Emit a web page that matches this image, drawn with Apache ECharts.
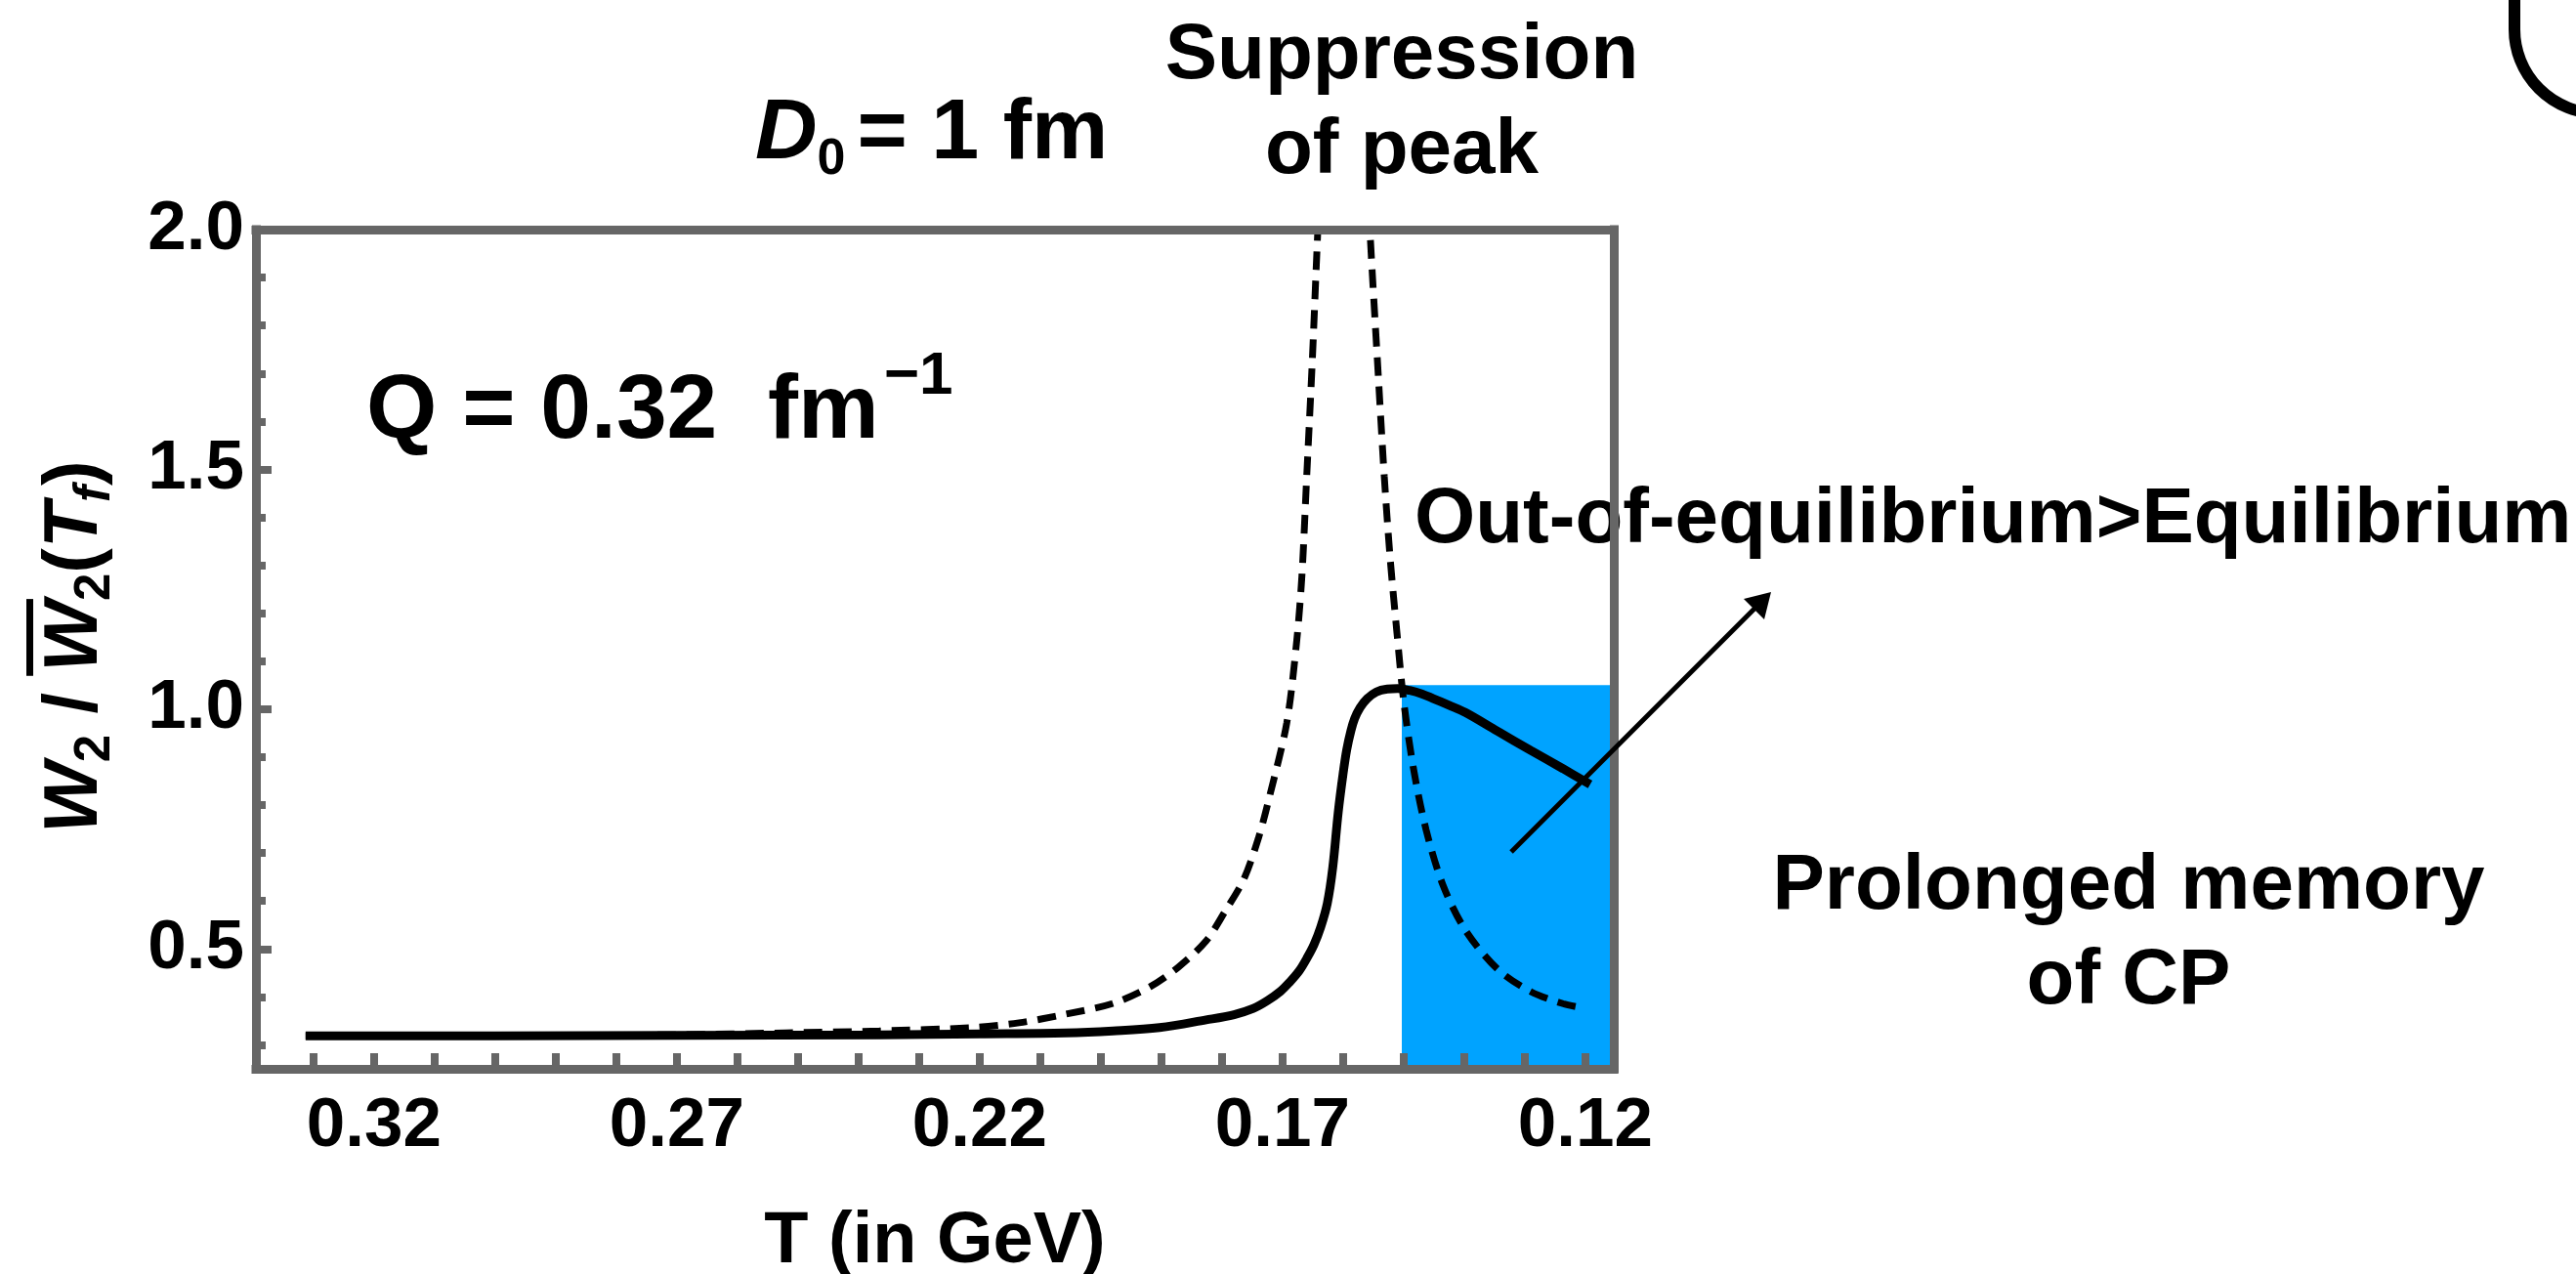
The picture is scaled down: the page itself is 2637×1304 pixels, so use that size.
<!DOCTYPE html>
<html>
<head>
<meta charset="utf-8">
<title>W2 ratio vs temperature</title>
<script src="https://cdn.jsdelivr.net/npm/echarts@6/dist/echarts.min.js"></script>
<style>
  html, body { margin: 0; padding: 0; background: #ffffff; }
  #chart { width: 2637px; height: 1304px; }
</style>
</head>
<body>
<div id="chart"></div>
<script>
// ---- data -------------------------------------------------------------
// Out-of-equilibrium ratio W2 / W2bar(Tf) along the cooling trajectory (T in GeV)
const neqTemp = [0.3313, 0.300, 0.270, 0.2366, 0.220, 0.2058, 0.1980, 0.1903, 0.1826, 0.1780,
  0.1748, 0.1725, 0.1703, 0.1688, 0.1672, 0.1660, 0.1648, 0.1637, 0.1626, 0.1617,
  0.1608, 0.1600, 0.1594, 0.1587, 0.1581, 0.1572, 0.1560, 0.1545, 0.1527, 0.1510,
  0.1490, 0.1470, 0.1451, 0.1425, 0.1398, 0.1345, 0.1290, 0.1237, 0.1192];
const neqRatio = [0.319, 0.319, 0.320, 0.321, 0.323, 0.325, 0.329, 0.336, 0.352, 0.363,
  0.376, 0.392, 0.412, 0.431, 0.455, 0.480, 0.509, 0.545, 0.595, 0.670,
  0.785, 0.865, 0.915, 0.955, 0.980, 1.003, 1.022, 1.036, 1.042, 1.043,
  1.039, 1.032, 1.022, 1.008, 0.993, 0.954, 0.914, 0.876, 0.843];

// Equilibrium ratio, branch above the critical temperature
const eqTempAbove = [0.3313, 0.300, 0.270, 0.2521, 0.2366, 0.2211, 0.2135, 0.2058, 0.1981, 0.1919,
  0.1872, 0.1826, 0.1795, 0.1764, 0.1740, 0.1721, 0.1693, 0.1677, 0.1668, 0.1660,
  0.1651, 0.1643, 0.1638];
const eqRatioAbove = [0.319, 0.319, 0.321, 0.325, 0.329, 0.336, 0.346, 0.364, 0.386, 0.421,
  0.462, 0.517, 0.578, 0.645, 0.730, 0.820, 0.971, 1.136, 1.277, 1.486,
  1.721, 1.960, 2.100];

// Equilibrium ratio, branch below the critical temperature
const eqTempBelow = [0.1559, 0.1555, 0.1543, 0.1532, 0.1522, 0.1511, 0.1500, 0.1484, 0.1463, 0.1435,
  0.1398, 0.1345, 0.1290, 0.1237, 0.1200];
const eqRatioBelow = [2.100, 1.983, 1.721, 1.486, 1.311, 1.159, 1.018, 0.878, 0.749, 0.633,
  0.539, 0.458, 0.411, 0.386, 0.376];

// Highlighted region where the out-of-equilibrium value exceeds equilibrium
const shadeTemp = [0.1503, 0.1153];
const shadeRatio = [0.25, 1.05];

// Axes
const tempRange = [0.1153, 0.3395];
const ratioRange = [0.25, 2.0];
const xLabelValues = [0.32, 0.27, 0.22, 0.17, 0.12];
const xTickValues = [0.33, 0.32, 0.31, 0.30, 0.29, 0.28, 0.27, 0.26, 0.25, 0.24, 0.23,
  0.22, 0.21, 0.20, 0.19, 0.18, 0.17, 0.16, 0.15, 0.14, 0.13, 0.12];
const yLabelValues = [0.5, 1.0, 1.5, 2.0];
const yMinorTickValues = [0.3, 0.4, 0.6, 0.7, 0.8, 0.9, 1.1, 1.2, 1.3, 1.4, 1.6, 1.7, 1.8, 1.9];

// ---- styling ----------------------------------------------------------
const FONT = '"Liberation Sans", Arial, Helvetica, sans-serif';
const FRAME = '#666666';
const SHADE = '#00a3ff';

const zip = (xs, ys) => xs.map((x, i) => [x, ys[i]]);

// Text measuring, so that math-style labels (italics, sub/superscripts)
// can be laid out piece by piece on a common baseline.
const measureCtx = document.createElement('canvas').getContext('2d');
function fontOf(size, italic) {
  return (italic ? 'italic' : 'normal') + ' bold ' + size + 'px ' + FONT;
}
function measure(text, size, italic) {
  measureCtx.font = fontOf(size, italic);
  measureCtx.textBaseline = 'middle';
  return {
    width: measureCtx.measureText(text).width,
    drop: measureCtx.measureText('H').actualBoundingBoxDescent
  };
}
// pieces: {text, size, italic, shift (px below baseline), gap (px before), overline}
function textRun(pieces, align) {
  let x = 0;
  const placed = pieces.map(p => {
    const m = measure(p.text, p.size, p.italic);
    const item = { p, m, x: x + (p.gap || 0) };
    x += (p.gap || 0) + m.width;
    return item;
  });
  const off = align === 'center' ? -x / 2 : 0;
  const out = [];
  placed.forEach(({ p, m, x }) => {
    out.push({
      type: 'text',
      x: x + off,
      y: (p.shift || 0) - m.drop,
      style: {
        text: p.text, font: fontOf(p.size, p.italic), fill: '#000',
        textAlign: 'left', textVerticalAlign: 'middle'
      }
    });
    if (p.overline) {
      out.push({
        type: 'rect',
        shape: { x: x + off + p.overline.from, y: -p.overline.top,
                 width: m.width + p.overline.extra, height: p.overline.thick },
        style: { fill: '#000' }
      });
    }
  });
  return out;
}
function placedRun(x, y, pieces, align, extra) {
  return Object.assign({ type: 'group', x, y, children: textRun(pieces, align) }, extra || {});
}

const tickLabelStyle = { fontFamily: FONT, fontWeight: 'bold', fontSize: 71, color: '#000' };
const frameLine = { show: true, onZero: false, lineStyle: { color: FRAME, width: 9, cap: 'square' } };
const noSplit = { show: false };
const dashedStyle = { color: '#000', width: 7, type: [19, 11] };

const chart = echarts.init(document.getElementById('chart'), null, { renderer: 'canvas' });

const option = {
  animation: false,
  backgroundColor: '#ffffff',
  grid: { left: 262, top: 235, width: 1390, height: 859, containLabel: false, outerBoundsMode: 'none' },
  xAxis: [
    {
      type: 'value', position: 'bottom', inverse: true, z: 5,
      min: tempRange[0], max: tempRange[1],
      axisLine: frameLine,
      axisTick: { show: true, inside: true, length: 16, customValues: xTickValues,
                  lineStyle: { color: FRAME, width: 8 } },
      axisLabel: Object.assign({ show: true, margin: 24, customValues: xLabelValues,
                  formatter: v => v.toFixed(2) }, tickLabelStyle),
      splitLine: noSplit
    },
    {
      type: 'value', position: 'top', inverse: true, z: 5,
      min: tempRange[0], max: tempRange[1],
      axisLine: frameLine, axisTick: { show: false }, axisLabel: { show: false }, splitLine: noSplit
    }
  ],
  yAxis: [
    {
      type: 'value', position: 'left', z: 5,
      min: ratioRange[0], max: ratioRange[1],
      axisLine: frameLine,
      axisTick: { show: true, inside: true, length: 16, customValues: yLabelValues,
                  lineStyle: { color: FRAME, width: 8 } },
      axisLabel: Object.assign({ show: true, margin: 12, padding: [10, 0, 0, 0],
                  customValues: yLabelValues, formatter: v => v.toFixed(1) }, tickLabelStyle),
      splitLine: noSplit
    },
    {
      type: 'value', position: 'left', z: 5,
      min: ratioRange[0], max: ratioRange[1],
      axisLine: { show: false },
      axisTick: { show: true, inside: true, length: 10, customValues: yMinorTickValues,
                  lineStyle: { color: FRAME, width: 8 } },
      axisLabel: { show: false }, splitLine: noSplit
    },
    {
      type: 'value', position: 'right', z: 5,
      min: ratioRange[0], max: ratioRange[1],
      axisLine: frameLine, axisTick: { show: false }, axisLabel: { show: false }, splitLine: noSplit
    }
  ],
  series: [
    {
      name: 'shade', type: 'line', data: [], z: 1, silent: true,
      markArea: {
        silent: true,
        itemStyle: { color: SHADE, opacity: 1 },
        data: [[
          { xAxis: shadeTemp[0], yAxis: shadeRatio[0] },
          { xAxis: shadeTemp[1], yAxis: shadeRatio[1] }
        ]]
      }
    },
    {
      name: 'Equilibrium (T > Tc)', type: 'line', z: 3,
      data: zip(eqTempAbove, eqRatioAbove),
      showSymbol: false, symbol: 'none', smooth: 0.3, clip: true,
      lineStyle: dashedStyle
    },
    {
      name: 'Equilibrium (T < Tc)', type: 'line', z: 3,
      data: zip(eqTempBelow, eqRatioBelow),
      showSymbol: false, symbol: 'none', smooth: 0.3, clip: true,
      lineStyle: dashedStyle
    },
    {
      name: 'Out-of-equilibrium', type: 'line', z: 4,
      data: zip(neqTemp, neqRatio),
      showSymbol: false, symbol: 'none', smooth: 0.35, clip: true,
      lineStyle: { color: '#000', width: 9 }
    }
  ],
  graphic: [
    // D0 = 1 fm
    placedRun(773, 162, [
      { text: 'D', size: 88, italic: true },
      { text: '0', size: 52, shift: 16 },
      { text: '= 1 fm', size: 88, gap: 12 }
    ]),
    // Suppression of peak
    placedRun(1435, 80, [{ text: 'Suppression', size: 80 }], 'center'),
    placedRun(1435, 177, [{ text: 'of peak', size: 80 }], 'center'),
    // Q = 0.32 fm^-1
    placedRun(375, 448, [
      { text: 'Q = 0.32  fm', size: 93 },
      { text: '\u22121', size: 62, shift: -45, gap: 5 }
    ]),
    // annotations on the right
    placedRun(1448, 555, [{ text: 'Out-of-equilibrium>Equilibrium', size: 80 }]),
    placedRun(2179, 930, [{ text: 'Prolonged memory', size: 80 }], 'center'),
    placedRun(2179, 1027, [{ text: 'of CP', size: 80 }], 'center'),
    // x-axis title
    placedRun(957, 1292, [{ text: 'T (in GeV)', size: 74 }], 'center'),
    // y-axis title, rotated to read upwards
    placedRun(99, 853, [
      { text: 'W', size: 77, italic: true },
      { text: '2', size: 51, shift: 13 },
      { text: ' / ', size: 77 },
      { text: 'W', size: 77, italic: true, overline: { from: -4, extra: 6, top: 72, thick: 7 } },
      { text: '2', size: 51, shift: 13 },
      { text: '(', size: 77 },
      { text: 'T', size: 77, italic: true },
      { text: 'f', size: 51, italic: true, shift: 13 },
      { text: ')', size: 77 }
    ], 'left', { rotation: Math.PI / 2 }),
    // arrow from the shaded band to its label
    {
      type: 'line', z: 10,
      shape: { x1: 1547, y1: 872, x2: 1798, y2: 621 },
      style: { stroke: '#000', lineWidth: 5 }
    },
    {
      type: 'polygon', z: 10,
      shape: { points: [[1813, 606], [1785, 613], [1806, 634]] },
      style: { fill: '#000' }
    },
    // bracket edge at the top-right corner
    {
      type: 'line',
      shape: { x1: 2574, y1: -2, x2: 2574, y2: 30 },
      style: { stroke: '#000', lineWidth: 12 }
    },
    {
      type: 'arc',
      shape: { cx: 2660, cy: 30, r: 86, startAngle: Math.PI / 2, endAngle: Math.PI, clockwise: true },
      style: { stroke: '#000', lineWidth: 12, fill: 'none' }
    }
  ]
};

chart.setOption(option);
</script>
</body>
</html>
